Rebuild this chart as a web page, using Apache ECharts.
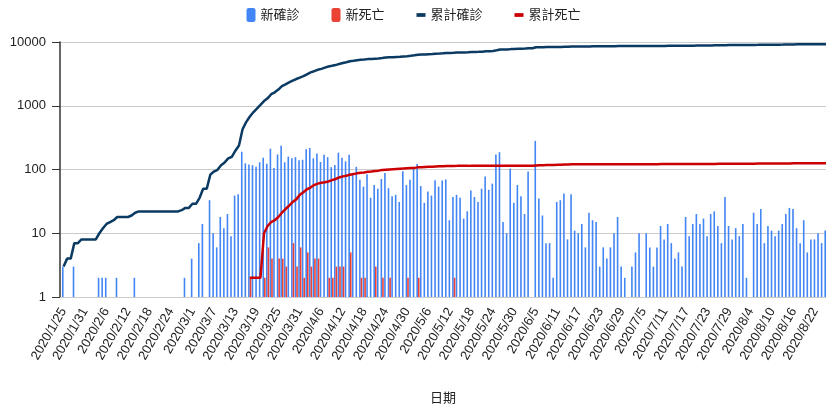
<!DOCTYPE html>
<html>
<head>
<meta charset="utf-8">
<script src="https://cdn.jsdelivr.net/npm/echarts@6/dist/echarts.min.js"></script>
<style>
html,body{margin:0;padding:0;background:#fff;}
#c{width:827px;height:405px;}
</style>
</head>
<body>
<div id="c"></div>
<script>
const categories = [
'2020/1/24','2020/1/25','2020/1/26','2020/1/27','2020/1/28','2020/1/29','2020/1/30','2020/1/31',
'2020/2/1','2020/2/2','2020/2/3','2020/2/4','2020/2/5','2020/2/6','2020/2/7','2020/2/8','2020/2/9','2020/2/10','2020/2/11','2020/2/12','2020/2/13','2020/2/14','2020/2/15','2020/2/16','2020/2/17','2020/2/18','2020/2/19','2020/2/20','2020/2/21','2020/2/22','2020/2/23','2020/2/24','2020/2/25','2020/2/26','2020/2/27','2020/2/28','2020/2/29',
'2020/3/1','2020/3/2','2020/3/3','2020/3/4','2020/3/5','2020/3/6','2020/3/7','2020/3/8','2020/3/9','2020/3/10','2020/3/11','2020/3/12','2020/3/13','2020/3/14','2020/3/15','2020/3/16','2020/3/17','2020/3/18','2020/3/19','2020/3/20','2020/3/21','2020/3/22','2020/3/23','2020/3/24','2020/3/25','2020/3/26','2020/3/27','2020/3/28','2020/3/29','2020/3/30','2020/3/31',
'2020/4/1','2020/4/2','2020/4/3','2020/4/4','2020/4/5','2020/4/6','2020/4/7','2020/4/8','2020/4/9','2020/4/10','2020/4/11','2020/4/12','2020/4/13','2020/4/14','2020/4/15','2020/4/16','2020/4/17','2020/4/18','2020/4/19','2020/4/20','2020/4/21','2020/4/22','2020/4/23','2020/4/24','2020/4/25','2020/4/26','2020/4/27','2020/4/28','2020/4/29','2020/4/30',
'2020/5/1','2020/5/2','2020/5/3','2020/5/4','2020/5/5','2020/5/6','2020/5/7','2020/5/8','2020/5/9','2020/5/10','2020/5/11','2020/5/12','2020/5/13','2020/5/14','2020/5/15','2020/5/16','2020/5/17','2020/5/18','2020/5/19','2020/5/20','2020/5/21','2020/5/22','2020/5/23','2020/5/24','2020/5/25','2020/5/26','2020/5/27','2020/5/28','2020/5/29','2020/5/30','2020/5/31',
'2020/6/1','2020/6/2','2020/6/3','2020/6/4','2020/6/5','2020/6/6','2020/6/7','2020/6/8','2020/6/9','2020/6/10','2020/6/11','2020/6/12','2020/6/13','2020/6/14','2020/6/15','2020/6/16','2020/6/17','2020/6/18','2020/6/19','2020/6/20','2020/6/21','2020/6/22','2020/6/23','2020/6/24','2020/6/25','2020/6/26','2020/6/27','2020/6/28','2020/6/29','2020/6/30',
'2020/7/1','2020/7/2','2020/7/3','2020/7/4','2020/7/5','2020/7/6','2020/7/7','2020/7/8','2020/7/9','2020/7/10','2020/7/11','2020/7/12','2020/7/13','2020/7/14','2020/7/15','2020/7/16','2020/7/17','2020/7/18','2020/7/19','2020/7/20','2020/7/21','2020/7/22','2020/7/23','2020/7/24','2020/7/25','2020/7/26','2020/7/27','2020/7/28','2020/7/29','2020/7/30','2020/7/31',
'2020/8/1','2020/8/2','2020/8/3','2020/8/4','2020/8/5','2020/8/6','2020/8/7','2020/8/8','2020/8/9','2020/8/10','2020/8/11','2020/8/12','2020/8/13','2020/8/14','2020/8/15','2020/8/16','2020/8/17','2020/8/18','2020/8/19','2020/8/20','2020/8/21','2020/8/22','2020/8/23','2020/8/24','2020/8/25'
];

// 新確診
const newCases = [
0,3,1,0,3,0,1,0,
0,0,0,2,2,2,1,1,2,0,0,0,1,2,1,0,0,0,0,0,0,0,0,0,0,0,1,2,0,
4,0,7,14,0,33,10,6,18,12,20,9,39,41,190,125,120,117,110,130,153,123,212,106,172,235,130,159,150,156,140,
142,208,217,150,179,131,170,156,109,118,184,153,134,170,85,110,69,54,84,36,57,50,71,88,51,38,40,31,94,57,
69,105,122,55,30,45,39,68,54,67,70,16,37,40,36,17,22,47,37,31,50,78,48,60,172,187,15,10,103,30,57,
38,20,93,0,281,35,19,7,7,2,31,33,42,8,41,11,10,14,6,21,16,15,3,6,4,6,10,18,3,2,
1,3,5,10,1,10,6,3,6,13,8,14,7,4,5,3,18,9,14,20,14,17,9,20,22,13,7,37,13,8,12,
9,14,2,1,21,14,24,7,13,11,9,11,14,20,25,24,12,7,16,5,8,8,10,7,11
];

// 新死亡
const newDeaths = [
0,0,0,0,0,0,0,0,
0,0,0,0,0,0,0,0,0,0,0,0,0,0,0,0,0,0,0,0,0,0,0,0,0,0,0,0,0,
0,0,0,0,0,0,0,0,0,0,0,0,0,0,0,0,2,0,0,0,2,6,4,1,4,4,3,1,7,3,6,
2,5,3,4,4,1,1,2,2,3,3,3,1,5,1,1,2,2,1,0,3,0,2,0,2,0,1,1,1,2,
1,0,2,0,1,1,0,1,1,0,1,0,2,1,0,0,0,1,0,0,0,0,0,0,0,0,0,0,0,0,0,
0,0,0,0,1,1,0,1,0,0,1,0,1,0,1,0,0,0,0,0,0,0,0,0,0,0,0,0,0,0,
0,0,0,0,0,0,0,0,0,1,0,0,0,0,0,0,0,0,0,0,0,0,0,0,0,1,0,0,0,0,0,
0,0,0,0,0,1,0,0,0,0,0,0,0,0,0,1,0,0,0,0,0,0,0,0,0
];

// 累計確診
const totalCases = [
0,3,4,4,7,7,8,8,
8,8,8,10,12,14,15,16,18,18,18,18,19,21,22,22,22,22,22,22,22,22,22,22,22,22,23,25,25,
29,29,36,50,50,83,93,99,117,129,149,158,197,238,428,553,673,790,900,1030,1183,1306,1518,1624,1796,2031,2161,2320,2470,2626,2766,
2908,3116,3333,3483,3662,3793,3963,4119,4228,4346,4530,4683,4817,4987,5072,5182,5251,5305,5389,5425,5482,5532,5603,5691,5742,5780,5820,5851,5945,6002,
6071,6176,6298,6353,6383,6428,6467,6535,6589,6656,6726,6742,6779,6819,6855,6872,6894,6941,6978,7009,7059,7137,7185,7245,7417,7604,7619,7629,7732,7762,7819,
7857,7877,7970,7970,8251,8286,8305,8312,8319,8321,8352,8385,8427,8435,8476,8487,8497,8511,8517,8538,8554,8569,8572,8578,8582,8588,8598,8616,8619,8621,
8622,8625,8630,8640,8641,8651,8657,8660,8666,8679,8687,8701,8708,8712,8717,8720,8738,8747,8761,8781,8795,8812,8821,8841,8863,8876,8883,8920,8933,8941,8953,
8962,8976,8978,8979,9000,9014,9038,9045,9058,9069,9078,9089,9103,9123,9148,9172,9184,9191,9207,9212,9220,9228,9238,9245,9256
];

// 累計死亡
const totalDeaths = [
0,0,0,0,0,0,0,0,
0,0,0,0,0,0,0,0,0,0,0,0,0,0,0,0,0,0,0,0,0,0,0,0,0,0,0,0,0,
0,0,0,0,0,0,0,0,0,0,0,0,0,0,0,0,2,2,2,2,10,13,15,16,18,21,24,27,31,34,40,
44,49,52,57,60,62,63,65,68,71,75,78,80,83,85,87,89,90,92,93,95,96,98,99,100,101,102,103,104,105,
106,106,108,108,109,110,110,111,112,112,113,113,113,114,114,114,114,115,115,115,115,115,115,115,115,115,115,115,115,115,115,
115,115,115,115,116,117,117,118,118,118,119,119,120,120,121,121,121,121,121,121,121,121,121,121,121,121,121,121,121,121,
121,121,121,121,121,121,121,121,121,122,122,122,122,122,122,122,122,122,122,122,122,122,122,122,122,123,123,123,123,123,123,
123,123,123,123,123,124,124,124,124,124,124,124,124,124,124,125,125,125,125,125,125,125,125,125,125
];

const yTicks = [1, 10, 100, 1000, 10000];
const FONT = 'Arial, "Liberation Sans", "Noto Sans CJK TC", sans-serif';

// log axis cannot show zero: zero entries become gaps
const forLog = arr => arr.map(v => (v > 0 ? v : '-'));

const chart = echarts.init(document.getElementById('c'), null, {renderer: 'canvas'});
chart.setOption({
  animation: false,
  textStyle: {fontFamily: FONT},
  legend: {
    top: 3,
    left: 'center',
    itemWidth: 9,
    itemHeight: 14,
    itemGap: 32,
    textStyle: {fontSize: 13, color: '#222', fontFamily: FONT},
    data: [
      {name: '新確診', icon: 'roundRect'},
      {name: '新死亡', icon: 'roundRect'},
      {name: '累計確診', icon: 'path://M0,0H12V5H0Z'},
      {name: '累計死亡', icon: 'path://M0,0H12V5H0Z'}
    ]
  },
  grid: {left: 60, right: 1, top: 42, bottom: 108, containLabel: false, outerBoundsMode: 'none'},
  xAxis: {
    type: 'category',
    data: categories,
    boundaryGap: false,
    axisLine: {show: true, lineStyle: {color: '#cccccc', width: 1}},
    axisTick: {show: false},
    splitLine: {show: false},
    axisLabel: {
      rotate: 60,
      interval: (i) => i >= 1 && (i - 1) % 6 === 0,
      fontSize: 13,
      color: '#222',
      margin: 12,
      fontFamily: FONT
    },
    name: '日期',
    nameLocation: 'middle',
    nameGap: 95,
    nameTextStyle: {fontSize: 13, color: '#222', fontFamily: FONT}
  },
  yAxis: {
    type: 'log',
    logBase: 10,
    min: yTicks[0],
    max: yTicks[yTicks.length - 1],
    axisLine: {show: true, lineStyle: {color: '#333', width: 1.5}},
    axisTick: {show: true, length: 8, lineStyle: {color: '#333'}},
    axisLabel: {fontSize: 13, color: '#222', margin: 14, formatter: v => String(v), fontFamily: FONT},
    splitLine: {show: true, lineStyle: {color: '#cccccc', width: 1}}
  },
  series: [
    {name: '新確診', type: 'bar', data: forLog(newCases), barWidth: 1.6, barGap: '0%', itemStyle: {color: '#4285f4'}, z: 2},
    {name: '新死亡', type: 'bar', data: forLog(newDeaths), barWidth: 1.6, barGap: '0%', itemStyle: {color: '#ea4335'}, z: 2},
    {name: '累計確診', type: 'line', data: forLog(totalCases), showSymbol: false, symbol: 'none', lineStyle: {color: '#0b3a62', width: 2.5}, itemStyle: {color: '#0b3a62'}, z: 3},
    {name: '累計死亡', type: 'line', data: forLog(totalDeaths), showSymbol: false, symbol: 'none', lineStyle: {color: '#cc0000', width: 2.5}, itemStyle: {color: '#cc0000'}, z: 4}
  ]
});
</script>
</body>
</html>
